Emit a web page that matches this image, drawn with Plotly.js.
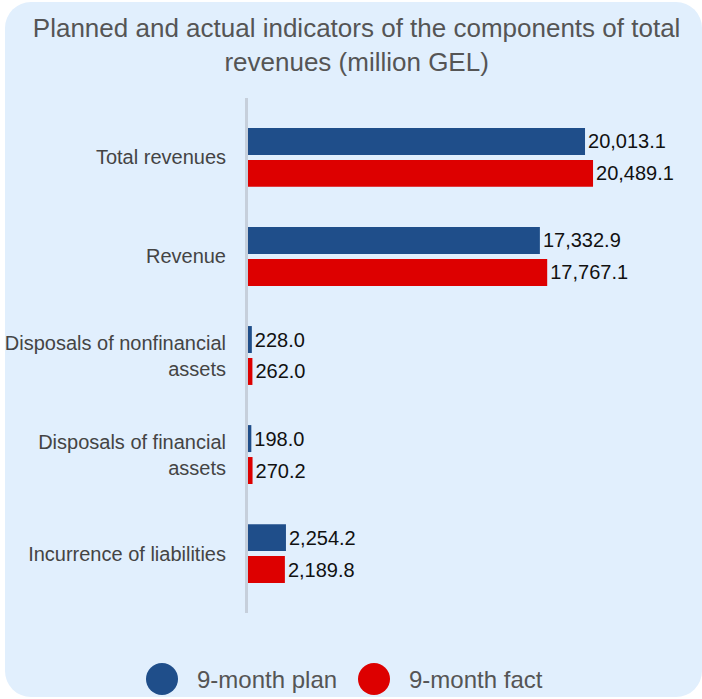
<!DOCTYPE html>
<html>
<head>
<meta charset="utf-8">
<script src="https://cdn.plot.ly/plotly-3.0.1.min.js"></script>
<style>
  html, body { margin: 0; padding: 0; background: #ffffff; }
  #wrap { position: relative; width: 702px; height: 699px; }
  #bg { position: absolute; left: 5px; top: 2px; width: 697px; height: 695px; background: #e1effd; border-radius: 26px; }
  #chart { position: absolute; left: 0; top: 0; width: 702px; height: 699px; }
</style>
</head>
<body>
<div id="wrap"><div id="bg"></div><div id="chart"></div></div>
<script>
const categories = [
  "Total revenues",
  "Revenue",
  "Disposals of nonfinancial<br>assets",
  "Disposals of financial<br>assets",
  "Incurrence of liabilities"
];
const planValues = [20013.1, 17332.9, 228.0, 198.0, 2254.2];
const factValues = [20489.1, 17767.1, 262.0, 270.2, 2189.8];
const seriesNames = ["9-month plan", "9-month fact"];
const seriesColors = ["#1f4e8a", "#dd0000"];
const titleText = "Planned and actual indicators of the components of total<br>revenues (million GEL)";

const W = 702, H = 699;
const margin = {l: 248, r: 33, t: 98, b: 86};
const plotW = W - margin.l - margin.r;
const plotH = H - margin.t - margin.b;
const FONT = "Liberation Sans, Arial, Helvetica, sans-serif";

function barTrace(name, values, color) {
  return {
    type: "bar",
    orientation: "h",
    name: name,
    y: categories,
    x: values,
    marker: {color: color},
    texttemplate: "%{x:,.1f}",
    textposition: "outside",
    cliponaxis: false,
    textfont: {family: FONT, size: 20, color: "#111111"},
    hoverinfo: "x+y",
    showlegend: false
  };
}

const traces = [
  barTrace(seriesNames[0], planValues, seriesColors[0]),
  barTrace(seriesNames[1], factValues, seriesColors[1])
];

// custom legend (large circles) at the bottom
const legendCentersPx = [162, 374];
const legendY = 679;
const shapes = [];
const annotations = [];
seriesNames.forEach((n, i) => {
  const px = (legendCentersPx[i] - margin.l) / plotW;
  const py = (H - margin.b - legendY) / plotH;
  shapes.push({
    type: "circle", xref: "paper", yref: "paper",
    xsizemode: "pixel", ysizemode: "pixel",
    xanchor: px, yanchor: py,
    x0: -16, x1: 16, y0: -16, y1: 16,
    fillcolor: seriesColors[i], line: {width: 0}
  });
  annotations.push({
    xref: "paper", yref: "paper",
    x: (legendCentersPx[i] + 33 - margin.l) / plotW, y: py,
    xanchor: "left", yanchor: "middle",
    text: n, showarrow: false,
    font: {family: FONT, size: 24, color: "#555555"}
  });
});

const layout = {
  width: W, height: H,
  margin: margin,
  paper_bgcolor: "rgba(0,0,0,0)",
  plot_bgcolor: "rgba(0,0,0,0)",
  barmode: "group",
  bargap: 0.355,
  bargroupgap: 0.156,
  showlegend: false,
  title: {
    text: titleText,
    x: 0.508, xref: "container", xanchor: "center",
    y: 1, yref: "container", yanchor: "top",
    pad: {t: 37},
    font: {family: FONT, size: 26, color: "#555555"}
  },
  xaxis: {
    range: [0, 25000],
    showgrid: false, zeroline: false, showline: false,
    showticklabels: false, ticks: "", fixedrange: true
  },
  yaxis: {
    type: "category",
    range: [4.6, -0.6],
    autorange: false,
    showgrid: false, zeroline: false,
    showline: true, linecolor: "#c6cfdb", linewidth: 3,
    ticks: "", ticklabelstandoff: 15,
    tickfont: {family: FONT, size: 20, color: "#444444"},
    fixedrange: true
  },
  shapes: shapes,
  annotations: annotations
};

Plotly.newPlot("chart", traces, layout, {displayModeBar: false, staticPlot: true});
</script>
</body>
</html>
